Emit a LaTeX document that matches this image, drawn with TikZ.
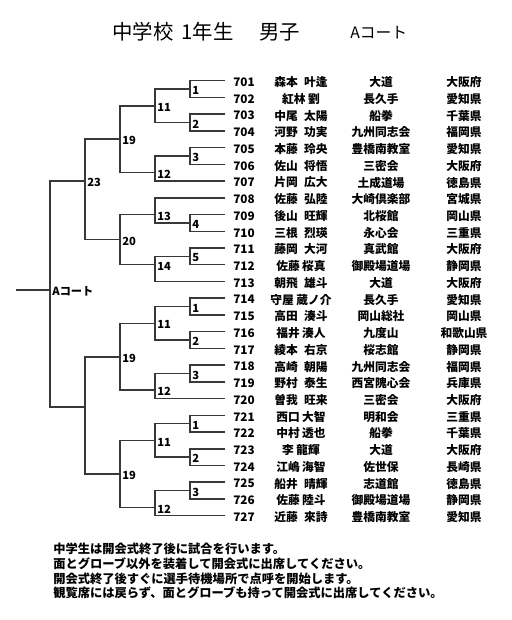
\documentclass[tikz,border=0pt]{standalone}
\usepackage{fontspec}
\setmainfont{Noto Sans CJK JP}
\usetikzlibrary{positioning}

\newcommand{\wsp}{\hspace{0.55em}}
\newcommand{\nsp}{\hspace{0.2em}}

\begin{document}
\begin{tikzpicture}[x=0.75pt, y=-0.75pt,
  brline/.style={draw=black!78, line width=1.15pt},
  tabtext/.style={font=\fontsize{8.8}{10}\selectfont\bfseries, inner sep=0pt},
  matchlab/.style={font=\fontsize{8.4}{10}\selectfont\bfseries, inner sep=0pt, anchor=west, xshift=1.6pt, yshift=-1.2pt}]
\useasboundingbox (0,0) rectangle (511,620);

% Title
\node[anchor=west, font=\fontsize{15.3}{17}\selectfont, inner sep=0pt] (title) at (112,32) {中学校\hspace{0.4em}1年生\hspace{1.25em}男子};
\node[anchor=west, font=\fontsize{11.8}{13}\selectfont, inner sep=0pt] (court) at (350,33) {Aコート};

% Entries
\foreach \k/\no/\nm/\club/\pref in {
  0/701/森本\wsp 叶逢/大道/大阪府,
  1/702/紅林\nsp 劉/長久手/愛知県,
  2/703/中尾\wsp 太陽/船拳/千葉県,
  3/704/河野\wsp 功実/九州同志会/福岡県,
  4/705/本藤\wsp 玲央/豊橋南教室/愛知県,
  5/706/佐山\wsp 将悟/三密会/大阪府,
  6/707/片岡\wsp 広大/土成道場/徳島県,
  7/708/佐藤\wsp 弘陸/大崎倶楽部/宮城県,
  8/709/後山\wsp 旺輝/北桜館/岡山県,
  9/710/三根\wsp 烈瑛/永心会/三重県,
  10/711/藤岡\wsp 大河/真武館/大阪府,
  11/712/佐藤\nsp 桜真/御殿場道場/静岡県,
  12/713/朝飛\wsp 雄斗/大道/大阪府,
  13/714/守屋\nsp 蔵ノ介/長久手/愛知県,
  14/715/高田\wsp 湊斗/岡山総社/岡山県,
  15/716/福井\nsp 湊人/九度山/和歌山県,
  16/717/綾本\wsp 右京/桜志館/静岡県,
  17/718/高崎\wsp 朝陽/九州同志会/福岡県,
  18/719/野村\wsp 泰生/西宮隗心会/兵庫県,
  19/720/曽我\wsp 旺来/三密会/大阪府,
  20/721/西口\nsp 大智/明和会/三重県,
  21/722/中村\nsp 透也/船拳/千葉県,
  22/723/李\nsp 龍輝/大道/大阪府,
  23/724/江嶋\nsp 海智/佐世保/長崎県,
  24/725/船井\wsp 晴輝/志道館/徳島県,
  25/726/佐藤\nsp 陸斗/御殿場道場/静岡県,
  26/727/近藤\wsp 來詩/豊橋南教室/愛知県}{
  \pgfmathsetmacro{\ry}{80.7+16.73*\k}
  \coordinate (e\no) at (225,\ry);
  \node[tabtext, anchor=west] (no\no) at (233,{\ry+1.5}) {\no};
  \node[tabtext] (nm\no) at (301,{\ry+1.5}) {\nm};
  \node[tabtext] (cl\no) at (381,{\ry+1.5}) {\club};
  \node[tabtext] (pr\no) at (464,{\ry+1.5}) {\pref};
}

% Bracket: x / top row / top x / bottom row / bottom x / label / label row
\foreach \x/\ta/\xa/\tb/\xb/\lab/\cn [count=\i] in {
  190/0/225/1/225/1/0.5, 190/2/225/3/225/2/2.5, 155/0.5/190/2.5/190/11/1.5,
  190/4/225/5/225/3/4.5, 155/4.5/190/6/225/12/5.5, 120/1.5/155/5.5/155/19/3.5,
  190/8/225/9/225/4/8.5, 155/7/225/8.5/190/13/8,
  190/10/225/11/225/5/10.5, 155/10.5/190/12/225/14/11,
  120/8/155/11/155/20/9.5, 85/3.5/120/9.5/120/23/6,
  50/6/85/19.5/85/Aコート/12.5,
  190/13/225/14/225/1/13.5, 190/15/225/16/225/2/15.5, 155/13.5/190/15.5/190/11/14.5,
  190/17/225/18/225/3/17.5, 155/17.5/190/19/225/12/18.5, 120/14.5/155/18.5/155/19/16.5,
  190/20/225/21/225/1/20.5, 190/22/225/23/225/2/22.5, 155/20.5/190/22.5/190/11/21.5,
  190/24/225/25/225/3/24.5, 155/24.5/190/26/225/12/25.5, 120/21.5/155/25.5/155/19/23.5,
  85/16.5/120/23.5/120/{}/19.5}{
  \draw[brline] (\xa,{80.7+16.73*\ta}) -- (\x,{80.7+16.73*\ta})
    -- (\x,{80.7+16.73*\tb}) -- (\xb,{80.7+16.73*\tb});
  \node[matchlab] (m\i) at (\x,{80.7+16.73*\cn}) {\lab};
}
\coordinate (final) at (16,{80.7+16.73*12.5});
\coordinate (ajoin) at (50,{80.7+16.73*12.5});
\draw[brline] (final) -- (ajoin);

% Notes
\node[anchor=north west, align=left, inner sep=0pt,
  font=\fontsize{9.2}{11}\selectfont\bfseries] (notes) at (53,543) {%
  中学生は開会式終了後に試合を行います。\\
  面とグローブ以外を装着して開会式に出席してください。\\
  開会式終了後すぐに選手待機場所で点呼を開始します。\\
  観覧席には戻らず、面とグローブも持って開会式に出席してください。};
\end{tikzpicture}
\end{document}
